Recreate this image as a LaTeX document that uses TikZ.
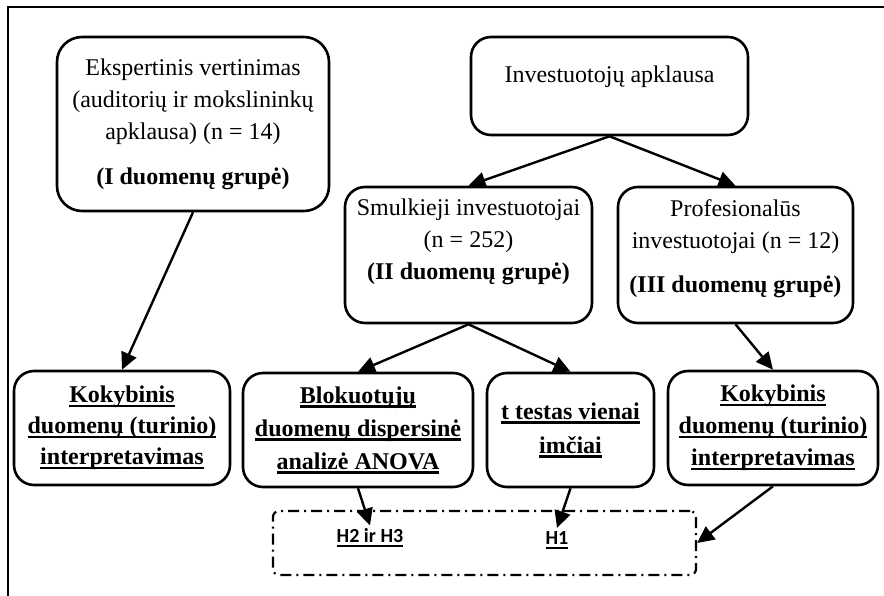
\documentclass[tikz,border=0pt]{standalone}
\usepackage{fontspec}
\setmainfont{Liberation Serif}
\newfontfamily\hypfont{Carlito}
\newcommand{\undl}[1]{\setbox0\hbox{#1}\leavevmode\rlap{\rule[-4.5pt]{\wd0}{2.2pt}}\box0}
\usetikzlibrary{arrows.meta}

\begin{document}
\begin{tikzpicture}[x=1pt,y=-1pt,
            box/.style={draw,line width=2.6pt,rounded corners=20pt,align=center,inner sep=0pt,
                font=\fontsize{24}{32}\selectfont},
            arr/.style={line width=2.4pt,-{Triangle[length=17pt,width=16pt]}},
            hyplabel/.style={font=\hypfont\bfseries\fontsize{20}{24}\selectfont,inner sep=3pt},
            ]
            \useasboundingbox (0,0) rectangle (884,596);
            \draw[line width=2.6pt] (8,596) -- (8,7) -- (884,7);

            \node[box,minimum width=272pt,minimum height=174pt,rounded corners=25pt] (eksp) at (193,124)
                {Ekspertinis vertinimas\\(auditorių ir mokslininkų\\apklausa) (n = 14)\\[13pt]\textbf{(I duomenų grupė)}};
            \node[box,minimum width=277pt,minimum height=98pt,text height=17pt,text depth=23pt] (invest) at (609.5,86)
                {Investuotojų apklausa};
            \node[box,minimum width=247pt,minimum height=136pt] (smulk) at (468.5,255)
                {Smulkieji investuotojai\\(n = 252)\\\textbf{(II duomenų grupė)}\\[0pt]\mbox{}};
            \node[box,minimum width=235pt,minimum height=136pt] (prof) at (735.5,255)
                {Profesionalūs\\investuotojai (n = 12)\\[12pt]\textbf{(III duomenų grupė)}\\[-14pt]\mbox{}};

            \node[box,minimum width=216pt,minimum height=114pt,font=\bfseries\fontsize{24}{31}\selectfont] (kokL) at (122,428)
                {\undl{Kokybinis}\\\undl{duomenų (turinio)}\\\undl{interpretavimas}};
            \node[box,minimum width=230pt,minimum height=114pt,font=\bfseries\fontsize{24}{33}\selectfont] (blok) at (358,430)
                {\undl{Blokuotųjų}\\\undl{duomenų dispersinė}\\\undl{analizė ANOVA}};
            \node[box,minimum width=167pt,minimum height=114pt,font=\bfseries\fontsize{24}{34}\selectfont] (ttest) at (570.5,430)
                {\undl{t testas vienai}\\\undl{imčiai}};
            \node[box,minimum width=210pt,minimum height=114pt,font=\bfseries\fontsize{24}{32}\selectfont] (kokR) at (773,428)
                {\undl{Kokybinis}\\\undl{duomenų (turinio)}\\\undl{interpretavimas}};

            \node[draw,line width=2.2pt,rounded corners=6pt,dash pattern=on 11pt off 5pt on 2pt off 5pt,
                minimum width=423pt,minimum height=64pt] (hyp) at (484.5,543) {};
            \node[hyplabel] (h23) at (370,538) {\undl{H2 ir H3}};
            \node[hyplabel] (h1) at (557,540) {\undl{H1}};

            \draw[arr] (eksp.south) -- (kokL.north);
            \draw[arr] (invest.south) -- (smulk.north);
            \draw[arr] (invest.south) -- (prof.north);
            \draw[arr] (smulk.south) -- (blok.north);
            \draw[arr] (smulk.south) -- (ttest.north);
            \draw[arr] (prof.south) -- (kokR.north);
            \draw[arr] (blok.south) -- (h23.north);
            \draw[arr] (ttest.south) -- (h1.north);
            \draw[arr] (kokR.south) -- (hyp.east);
\end{tikzpicture}
\end{document}
